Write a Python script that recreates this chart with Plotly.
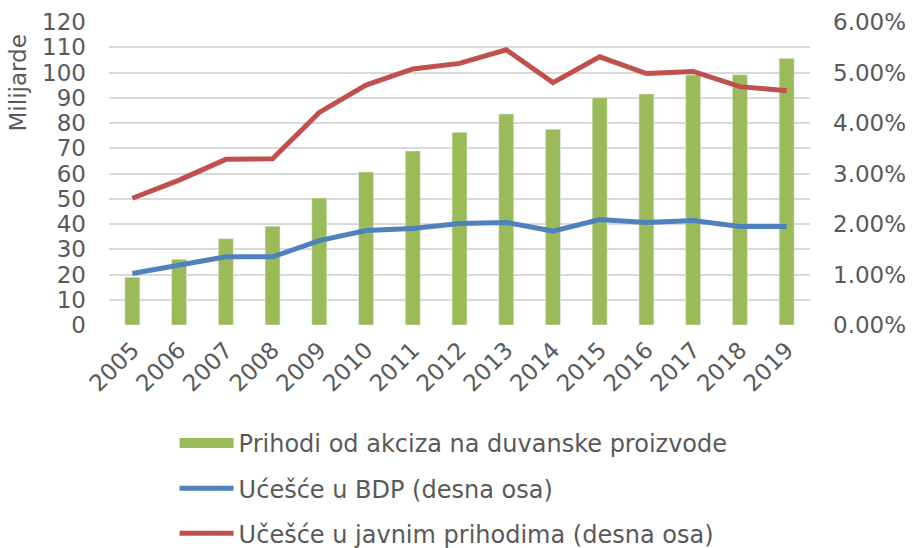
import plotly.graph_objects as go

years = [str(y) for y in range(2005, 2020)]
excise_bn = [18.9, 26.0, 34.2, 39.1, 50.3, 60.6, 68.9, 76.3, 83.6, 77.5, 90.0, 91.5, 99.0, 99.1, 105.6]
share_gdp = [1.02, 1.19, 1.35, 1.35, 1.67, 1.87, 1.91, 2.01, 2.03, 1.86, 2.09, 2.03, 2.07, 1.95, 1.95]
share_rev = [2.51, 2.87, 3.28, 3.29, 4.21, 4.75, 5.07, 5.18, 5.45, 4.80, 5.31, 4.98, 5.02, 4.72, 4.64]

name_bar = "Prihodi od akciza na duvanske proizvode"
name_gdp = "Ućešće u BDP (desna osa)"
name_rev = "Učešće u javnim prihodima (desna osa)"

GREEN = "#9BBB59"
BLUE = "#4F81BD"
RED = "#C0504D"
GREY = "#595959"
FONT = "DejaVu Sans"

fig = go.Figure()
fig.add_trace(go.Bar(x=years, y=excise_bn, name=name_bar, marker_color=GREEN,
                     showlegend=False, yaxis="y"))
# legend proxy for the bar series (wide rectangle swatch)
fig.add_trace(go.Scatter(x=[None], y=[None], mode="lines", name=name_bar,
                         line=dict(color=GREEN, width=14), legendgroup="a", yaxis="y"))
fig.add_trace(go.Scatter(x=years, y=share_gdp, mode="lines", name=name_gdp,
                         line=dict(color=BLUE, width=5), legendgroup="b", yaxis="y2"))
fig.add_trace(go.Scatter(x=years, y=share_rev, mode="lines", name=name_rev,
                         line=dict(color=RED, width=5), legendgroup="c", yaxis="y2"))

fig.update_layout(
    width=916, height=548,
    margin=dict(l=109, r=106, t=22, b=223, autoexpand=False),
    paper_bgcolor="white", plot_bgcolor="white",
    font=dict(family=FONT, size=23, color=GREY),
    bargap=0.68,
    xaxis=dict(tickangle=-45, showgrid=False, showline=False, ticks="", ticklabelstandoff=6,
               tickfont=dict(size=23, color=GREY)),
    yaxis=dict(range=[0, 120], dtick=10, showgrid=True, gridcolor="#D9D9D9", gridwidth=1.5,
               zeroline=False, showline=False, ticks="", ticklabelstandoff=22,
               tickfont=dict(size=23, color=GREY)),
    yaxis2=dict(range=[0, 6], dtick=1, overlaying="y", side="right", showgrid=False,
                zeroline=False, showline=False, tickformat=".2f", ticksuffix="%", ticks="",
                ticklabelstandoff=22, tickfont=dict(size=23, color=GREY)),
    legend=dict(orientation="v", x=0.0936, xref="paper", y=0.232, yref="container",
                xanchor="left", yanchor="top",
                font=dict(size=24, color=GREY), itemwidth=54, tracegroupgap=11,
                bgcolor="rgba(0,0,0,0)"),
    annotations=[dict(text="Milijarde", textangle=-90, xref="paper", yref="paper",
                      x=-0.13, y=0.80, xanchor="center", yanchor="middle",
                      showarrow=False, font=dict(size=23, color=GREY))],
)

fig.write_html("out.html",
               config={"displayModeBar": False},
               post_script="document.body.style.margin='0';document.body.style.overflow='hidden';")
